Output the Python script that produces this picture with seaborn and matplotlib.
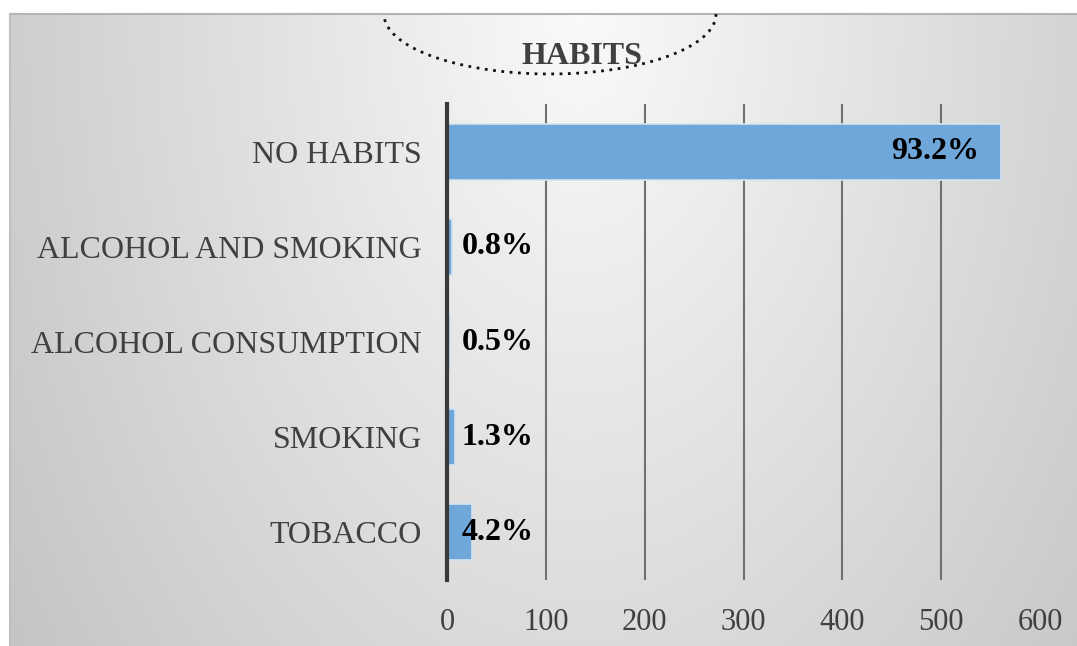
import numpy as np
import pandas as pd
import matplotlib
matplotlib.use("Agg")
import matplotlib.pyplot as plt
import seaborn as sns

# Survey of habits: share of respondents per category
categories = ["NO HABITS", "ALCOHOL AND SMOKING", "ALCOHOL CONSUMPTION", "SMOKING", "TOBACCO"]
percent = [93.2, 0.8, 0.5, 1.3, 4.2]
respondents = 601
x_ticks = [0, 100, 200, 300, 400, 500, 600]
title = "HABITS"

counts = [p * respondents / 100 for p in percent]
df = pd.DataFrame({"habit": categories, "count": counts,
                   "label": [f"{p:.1f}%" for p in percent]})

sns.set_theme(style="white")
plt.rcParams["font.family"] = ["Liberation Serif", "DejaVu Serif"]

W, H = 1077, 646
fig = plt.figure(figsize=(W / 100, H / 100), dpi=100)
fig.patch.set_facecolor("white")

# gradient backdrop panel
pl, pt = 10, 14
bg = fig.add_axes([pl / W, 0, 1 - pl / W, (H - pt) / H], zorder=-5)
yy, xx = np.mgrid[pt:H, pl:W]
d = np.sqrt(((xx - 580) / 570.0) ** 2 + ((yy - 10) / 900.0) ** 2)
val = np.clip(250 - 44 * d, 190, 255) / 255.0
bg.imshow(np.dstack([val, val, val]), aspect="auto", extent=[0, 1, 0, 1])
bg.set_axis_off()
fig.add_artist(plt.Line2D([pl / W, 1], [(H - pt) / H] * 2, color="#b4b4b4", lw=1.5))
fig.add_artist(plt.Line2D([pl / W] * 2, [0, (H - pt) / H], color="#c0c0c0", lw=1.5))

# decorative dotted arc under the title
t = np.linspace(0, np.pi, 200)
ax_px = 550 + 166 * np.cos(t)
ay_px = pt + 60 * np.sin(t)
fig.add_artist(plt.Line2D(ax_px / W, 1 - ay_px / H, color="#111111",
                          lw=2.0, ls=(0, (1, 2.0))))

ax = fig.add_axes([447 / W, 1 - 580 / H, (1040 - 447) / W, (580 - 104) / H])
ax.patch.set_alpha(0)

sns.barplot(data=df, y="habit", x="count", orient="h", ax=ax,
            color="#6fa7da", saturation=1, width=0.59,
            edgecolor="#d4e3f1", linewidth=1.2, zorder=3)

ax.set_xlim(0, 600)
ax.set_xticks(x_ticks)
ax.set_xticklabels([str(v) for v in x_ticks])
for v in x_ticks[1:-1]:
    ax.axvline(v, color="#707070", lw=1.5, zorder=1)

for s in ["top", "right", "bottom"]:
    ax.spines[s].set_visible(False)
ax.spines["left"].set_color("#3a3a3a")
ax.spines["left"].set_linewidth(3)
ax.spines["left"].set_zorder(5)

ax.tick_params(axis="both", length=0, labelcolor="#404040")
ax.tick_params(axis="y", labelsize=23, pad=18)
ax.tick_params(axis="x", labelsize=22, pad=20)
ax.set_xlabel("")
ax.set_ylabel("")

for i, row in df.iterrows():
    if row["count"] > 300:
        ax.text(row["count"] - 22, i, row["label"], ha="right", va="center",
                fontsize=23, fontweight="bold", color="black", zorder=6)
    else:
        ax.text(15, i, row["label"], ha="left", va="center",
                fontsize=23, fontweight="bold", color="black", zorder=6)

fig.text(582 / W, 1 - 56 / H, title, ha="center", va="center",
         fontsize=23, fontweight="bold", color="#404040")

fig.savefig("out.png", dpi=100)
